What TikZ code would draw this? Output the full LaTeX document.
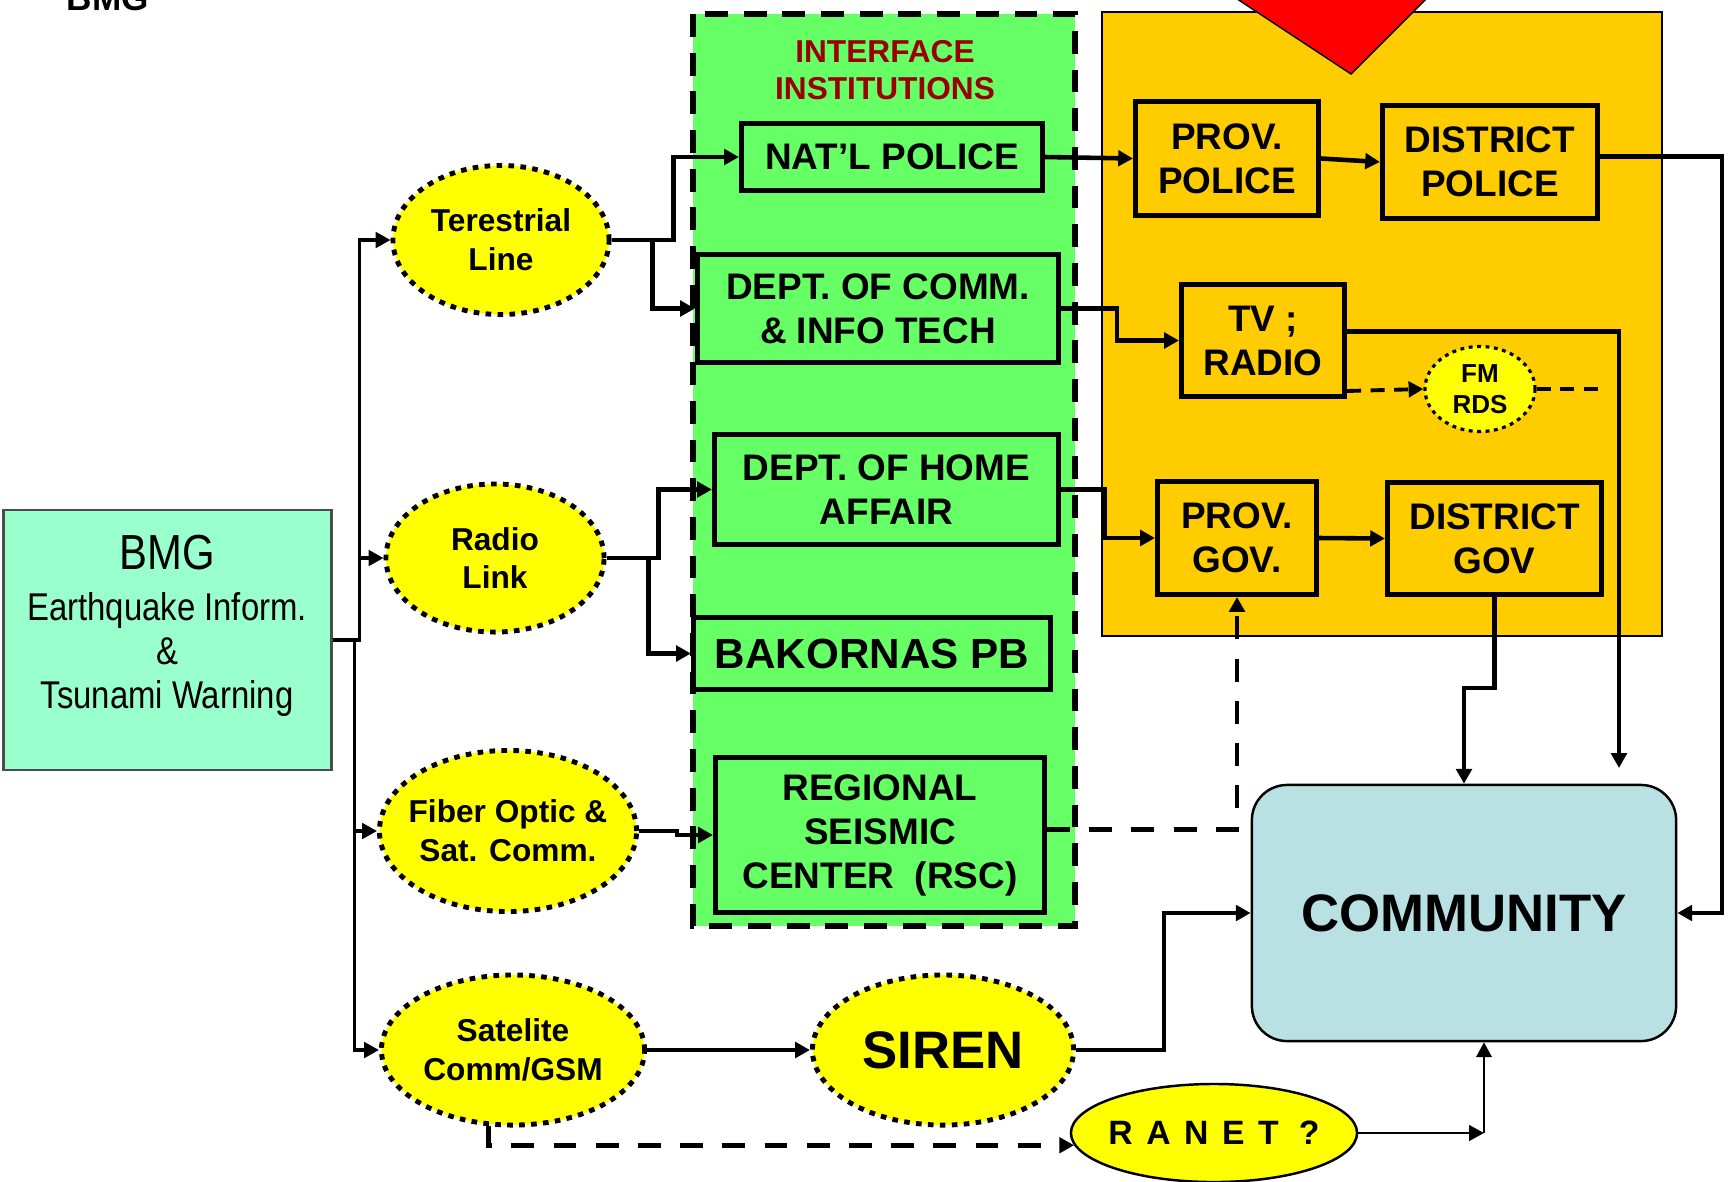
\documentclass[tikz,border=0pt]{standalone}
\usepackage{fontspec}
\setmainfont{Liberation Sans}
\newfontfamily\narrowfont[FakeStretch=0.85]{Liberation Sans}
\usetikzlibrary{arrows.meta,shapes.geometric}
\definecolor{ifGreen}{HTML}{66FF66}
\definecolor{regOrange}{HTML}{FFCC00}
\definecolor{lnkYellow}{HTML}{FFFF00}
\definecolor{bmgMint}{HTML}{99FFCC}
\definecolor{comBlue}{HTML}{B9E0E3}
\definecolor{ifRed}{HTML}{990000}

\begin{document}
\begin{tikzpicture}[x=0.01cm,y=-0.01cm,>={Triangle[length=4.2pt,width=4.4pt]},
  box/.style={draw,line width=1.4pt,inner sep=0pt,align=center,font=\bfseries\fontsize{10.5}{12.5}\selectfont},
  link/.style={ellipse,draw,fill=lnkYellow,line width=1.4pt,dash pattern=on 1.6pt off 1.8pt,
    inner sep=-6pt,align=center,font=\bfseries\fontsize{9}{11}\selectfont},
  wire/.style={line width=0.9pt},
  thickwire/.style={line width=1.3pt},
  thinwire/.style={line width=0.6pt},
  dashwire/.style={line width=1.4pt,dash pattern=on 6.5pt off 5.5pt},
  smalldash/.style={line width=1.1pt,dash pattern=on 4pt off 2.7pt}]
  \useasboundingbox (0,0) rectangle (1730,1181);
  % frames
  \filldraw[fill=ifGreen,draw=black,line width=1.6pt,dash pattern=on 6.5pt off 4.5pt] (693,14) rectangle (1075,926);
  \filldraw[fill=regOrange,draw=black,line width=0.6pt] (1102,12) rectangle (1662,636);
  \filldraw[fill=red,draw=black,line width=0.4pt] (1178,-40) -- (1351,74) -- (1465,-40) -- cycle;
  \node[font=\bfseries\fontsize{10}{12}\selectfont,anchor=base] (bmghead) at (108,10) {BMG};
  % source
  \node[draw=black!70,line width=0.8pt,fill=bmgMint,minimum width=3.27cm,minimum height=2.60cm] (bmg) at (167.5,640) {};
  \node[align=center,font=\narrowfont\fontsize{11}{12.5}\selectfont] (bmgtxt) at (167,626)
    {{\fontsize{14}{15}\selectfont BMG}\\[2pt]Earthquake Inform.\\\&\\Tsunami Warning};
  % links
  \node[link,minimum width=2.16cm,minimum height=1.49cm] (ter) at (501,240) {Terestrial\\Line};
  \node[link,minimum width=2.18cm,minimum height=1.48cm] (rad) at (495,558) {Radio\\Link};
  \node[link,minimum width=2.57cm,minimum height=1.61cm] (fib) at (508,831) {Fiber Optic \&\\Sat. Comm.};
  \node[link,minimum width=2.63cm,minimum height=1.50cm] (sat) at (513,1050) {Satelite\\Comm/GSM};
  \node[link,minimum width=2.61cm,minimum height=1.50cm,font=\bfseries\fontsize{15}{18}\selectfont] (siren) at (943,1050) {SIREN};
  % interface institutions
  \node[ifRed,font=\bfseries\fontsize{9}{10.5}\selectfont,align=center] (iftitle) at (885,70) {INTERFACE\\INSTITUTIONS};
  \node[box,fill=ifGreen,minimum width=3.01cm,minimum height=0.67cm] (natl) at (892,157) {NAT’L POLICE};
  \node[box,fill=ifGreen,minimum width=3.61cm,minimum height=1.08cm] (dcomm) at (878,308.5) {DEPT. OF COMM.\\\& INFO TECH};
  \node[box,fill=ifGreen,minimum width=3.44cm,minimum height=1.10cm] (dhome) at (886.5,489.5) {DEPT. OF HOME\\AFFAIR};
  \node[box,fill=ifGreen,minimum width=3.57cm,minimum height=0.72cm,font=\bfseries\fontsize{12}{14}\selectfont] (bakor) at (872,653.5) {BAKORNAS PB};
  \node[box,fill=ifGreen,minimum width=3.29cm,minimum height=1.55cm] (rsc) at (880,835) {REGIONAL\\SEISMIC\\CENTER~ (RSC)};
  % regional
  \node[box,fill=regOrange,minimum width=1.83cm,minimum height=1.14cm] (ppol) at (1227,158.5) {PROV.\\POLICE};
  \node[box,fill=regOrange,minimum width=2.15cm,minimum height=1.13cm] (dpol) at (1490,162) {DISTRICT\\POLICE};
  \node[box,fill=regOrange,minimum width=1.63cm,minimum height=1.12cm] (tv) at (1263,340.5) {TV ;\\RADIO};
  \node[box,fill=regOrange,minimum width=1.59cm,minimum height=1.13cm] (pgov) at (1237,538) {PROV.\\GOV.};
  \node[box,fill=regOrange,minimum width=2.14cm,minimum height=1.12cm] (dgov) at (1494.5,538.5) {DISTRICT\\GOV};
  \node[link,line width=0.9pt,dash pattern=on 1.1pt off 1.3pt,minimum width=1.10cm,minimum height=0.85cm,
    font=\bfseries\fontsize{7.4}{8.8}\selectfont] (fm) at (1480,389) {FM\\RDS};
  % targets
  \node[draw,line width=0.7pt,fill=comBlue,rounded corners=10pt,minimum width=4.24cm,minimum height=2.56cm,
    font=\bfseries\fontsize{15}{18}\selectfont] (comm) at (1464,913) {COMMUNITY};
  \node[ellipse,draw,line width=0.7pt,fill=lnkYellow,inner sep=-6pt,minimum width=2.86cm,minimum height=0.98cm,
    font=\bfseries\fontsize{9.6}{11}\selectfont] (ranet) at (1214,1133)
    {R\hspace{0.4em}A\hspace{0.4em}N\hspace{0.4em}E\hspace{0.4em}T\hspace{0.6em}?};
  \coordinate (tvdrop) at (1619,768);
  \coordinate (fmend) at (1606,389);
  \coordinate (rjoin) at (1484,1133);
  % connectors
  \foreach \n/\dx in {ter/27,rad/27,fib/22,sat/22}
    \draw[wire,->] (bmg.east) -- ++(\dx,0) |- (\n.west);
  \draw[thickwire,->] (ter.east) -- ++(62,0) |- (natl.west);
  \draw[thickwire,->] (ter.east) -- ++(41,0) |- (dcomm.west);
  \draw[thickwire,->] (rad.east) -- ++(52,0) |- (dhome.west);
  \draw[thickwire,->] (rad.east) -- ++(42,0) |- (bakor.west);
  \draw[thickwire,->] (fib.east) -- ++(38,0) |- (rsc.west);
  \draw[thickwire,->] (sat.east) -- (siren.west);
  \draw[dashwire,->] (sat.252) |- (ranet.185);
  \draw[thickwire,->] (siren.east) -- ++(88,0) |- (comm.west);
  \draw[thinwire,->] (ranet.east) -- (rjoin);
  \draw[thinwire,->] (rjoin) -- (rjoin |- comm.south);
  \draw[dashwire,->] (rsc.2) -| (pgov.south);
  \draw[thickwire,->] (natl.east) -- (ppol.west);
  \draw[thickwire,->] (ppol.east) -- (dpol.west);
  \draw[thickwire,->] (dpol.3) -- ++(122,0) |- (comm.east);
  \draw[thickwire,->] (dcomm.east) -- ++(56,0) |- (tv.west);
  \draw[thickwire,->] (tv.6) -| (tvdrop);
  \draw[smalldash,->] (tv.-31) -- (fm.west);
  \draw[smalldash] (fm.east) -- (fmend);
  \draw[thickwire,->] (dhome.east) -- ++(44,0) |- (pgov.west);
  \draw[thickwire,->] (pgov.east) -- (dgov.west);
  \draw[thickwire,->] (dgov.south) -- ++(0,91) -| (comm.north);
\end{tikzpicture}
\end{document}
